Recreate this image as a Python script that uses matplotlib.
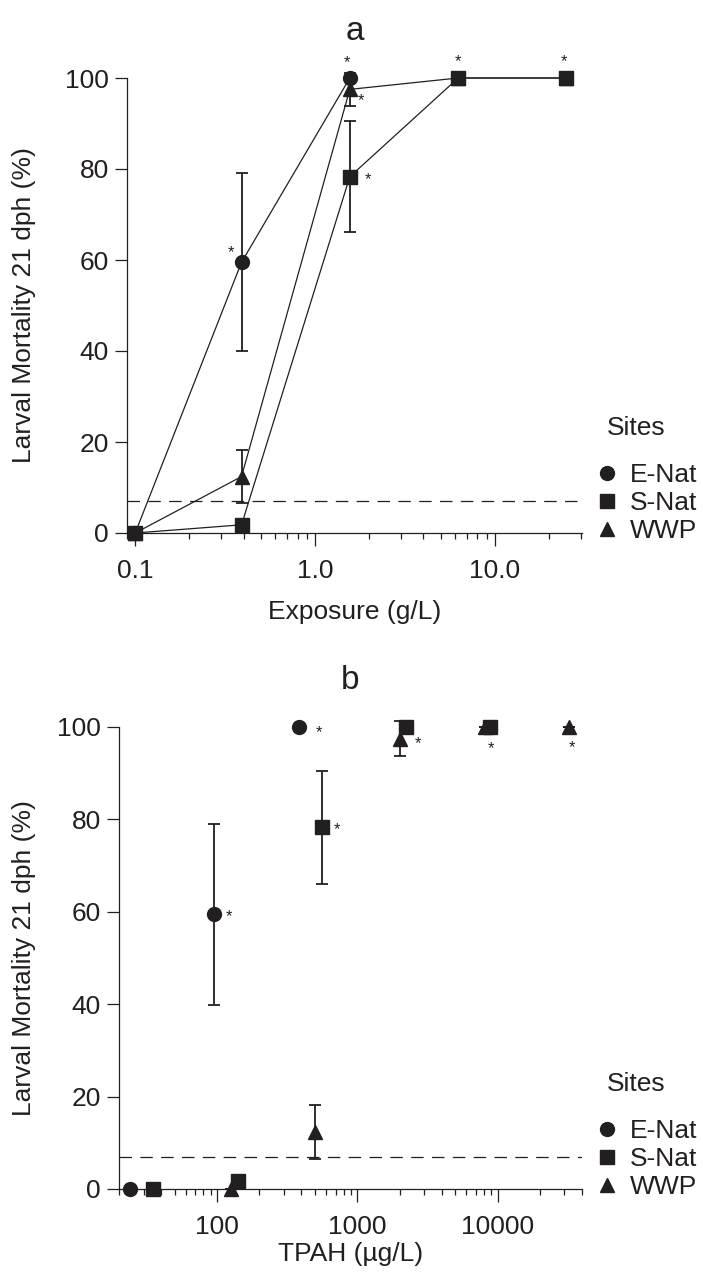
import numpy as np
import matplotlib
matplotlib.use("Agg")
import matplotlib.pyplot as plt
from matplotlib.lines import Line2D
from matplotlib.ticker import LogLocator, FixedFormatter, FixedLocator, NullFormatter

plt.rcParams['font.family'] = ['Liberation Sans', 'DejaVu Sans']
plt.rcParams['lines.scale_dashes'] = False

INK = '#231f20'

# ---- panel a: exposure (g/L) ----
exp_enat = [0.1, 0.39, 1.56]
mort_enat = [0, 59.5, 100]
err_enat = [0, 19.6, 0]

exp_snat = [0.1, 0.39, 1.56, 6.25, 25]
mort_snat = [0, 1.8, 78.3, 100, 100]
err_snat = [0, 0, 12.2, 0, 0]

exp_wwp = [0.1, 0.39, 1.56, 6.25, 25]
mort_wwp = [0, 12.4, 97.5, 100, 100]
err_wwp = [0, 5.8, 3.7, 0, 0]

# ---- panel b: TPAH (ug/L) ----
tpah_enat = [24, 95, 385]
tpah_snat = [35, 140, 562, 2240, 8900]
tpah_wwp = [126, 501, 2030, 8200, 32100]

control_level = 7
sites = ['E-Nat', 'S-Nat', 'WWP']
markers = ['o', 's', '^']
msizes = [10, 10.5, 10.5]

# asterisks: (series index, point index, dx px, dy px)
stars_a = [(0, 1, -11, 12), (0, 2, -3, 18), (2, 2, 11, -8), (1, 2, 18, 0),
           (1, 3, 0, 19), (1, 4, -2, 19)]
stars_b = [(0, 1, 15, 0), (1, 2, 15, 0), (0, 2, 20, -3), (2, 2, 18, -2),
           (1, 4, 1, -19), (2, 4, 3, -18)]

FS = 19
W, H = 703, 1282
fig = plt.figure(figsize=(W / 100, H / 100), dpi=100)
ax_a = fig.add_axes([127 / W, 1 - 533 / H, 455 / W, 455 / H])
ax_b = fig.add_axes([119 / W, 1 - 1189 / H, 463 / W, 462 / H])


def style_axes(ax, title):
    ax.set_xscale('log')
    ax.set_ylim(0, 100)
    ax.set_yticks([0, 20, 40, 60, 80, 100])
    for s in ['top', 'right']:
        ax.spines[s].set_visible(False)
    for s in ['left', 'bottom']:
        ax.spines[s].set_color(INK)
        ax.spines[s].set_linewidth(0.9)
    ax.tick_params(which='major', length=9, width=0.9, color=INK,
                   labelsize=FS, labelcolor=INK)
    ax.tick_params(axis='x', which='major', pad=10)
    ax.tick_params(axis='y', which='major', pad=4)
    ax.tick_params(which='minor', length=4.5, width=0.9, color=INK)
    ax.set_ylabel('Larval Mortality 21 dph (%)', fontsize=FS, color=INK)
    ax.set_title(title, fontsize=24, color=INK, pad=27)
    ax.axhline(control_level, color=INK, lw=0.9, ls=(0, (9, 6)), zorder=1)


def draw_series(ax, xs_list, ys_list, errs, connect):
    # squares drawn last so they sit on top, as in the original
    for i in [0, 2, 1]:
        x, y, e = xs_list[i], ys_list[i], errs[i]
        ax.errorbar(x, y, yerr=e, fmt='none', ecolor=INK, elinewidth=1.3,
                    capsize=4.5, capthick=1.3, zorder=2 + i, clip_on=False)
        ax.plot(x, y, marker=markers[i], ms=msizes[i], color=INK,
                lw=0.9 if connect else 0, ls='-' if connect else 'none',
                zorder=3 + i, clip_on=False)


def add_stars(ax, xs_list, ys_list, stars):
    for si, pi, dx, dy in stars:
        ax.annotate('*', (xs_list[si][pi], ys_list[si][pi]),
                    xytext=(dx * 0.72, dy * 0.72 - 2), textcoords='offset points',
                    ha='center', va='center', fontsize=12, color=INK,
                    annotation_clip=False)


def add_legend(ax, y_row_px, x_title_px=607):
    handles = [Line2D([], [], marker=m, ms=s, color=INK, ls='none')
               for m, s in zip(markers, msizes)]
    ax.legend(handles, sites, loc='center left',
              bbox_to_anchor=(594 / W, 1 - (y_row_px - 30) / H),
              bbox_transform=fig.transFigure, frameon=False, fontsize=FS,
              handlelength=1.0, handletextpad=0.35, labelspacing=0.15,
              borderpad=0, borderaxespad=0, labelcolor=INK)
    fig.text(x_title_px / W, 1 - (y_row_px - 105) / H, 'Sites', fontsize=FS,
             color=INK, ha='left', va='center')


ys = [mort_enat, mort_snat, mort_wwp]
errs = [err_enat, err_snat, err_wwp]

# panel a
style_axes(ax_a, 'a')
xa = [exp_enat, exp_snat, exp_wwp]
draw_series(ax_a, xa, ys, errs, connect=True)
add_stars(ax_a, xa, ys, stars_a)
ax_a.set_xlim(0.09, 30.5)
ax_a.xaxis.set_major_locator(FixedLocator([0.1, 1, 10]))
ax_a.xaxis.set_major_formatter(FixedFormatter(['0.1', '1.0', '10.0']))
ax_a.xaxis.set_minor_locator(LogLocator(base=10, subs=np.arange(2, 10), numticks=20))
ax_a.xaxis.set_minor_formatter(NullFormatter())
ax_a.set_xlabel('Exposure (g/L)', fontsize=FS, color=INK, labelpad=12)
ax_a.yaxis.set_label_coords(-0.2, 0.5)
add_legend(ax_a, 533)

# panel b
style_axes(ax_b, 'b')
xb = [tpah_enat, tpah_snat, tpah_wwp]
draw_series(ax_b, xb, ys, errs, connect=False)
add_stars(ax_b, xb, ys, stars_b)
ax_b.set_xlim(20, 40000)
ax_b.xaxis.set_major_locator(FixedLocator([100, 1000, 10000]))
ax_b.xaxis.set_major_formatter(FixedFormatter(['100', '1000', '10000']))
ax_b.xaxis.set_minor_locator(LogLocator(base=10, subs=np.arange(2, 10), numticks=20))
ax_b.xaxis.set_minor_formatter(NullFormatter())
ax_b.set_xlabel('TPAH (\u00b5g/L)', fontsize=FS, color=INK, labelpad=2)
ax_b.yaxis.set_label_coords(-0.18, 0.5)
add_legend(ax_b, 1189)

fig.savefig('out.png', dpi=100)
